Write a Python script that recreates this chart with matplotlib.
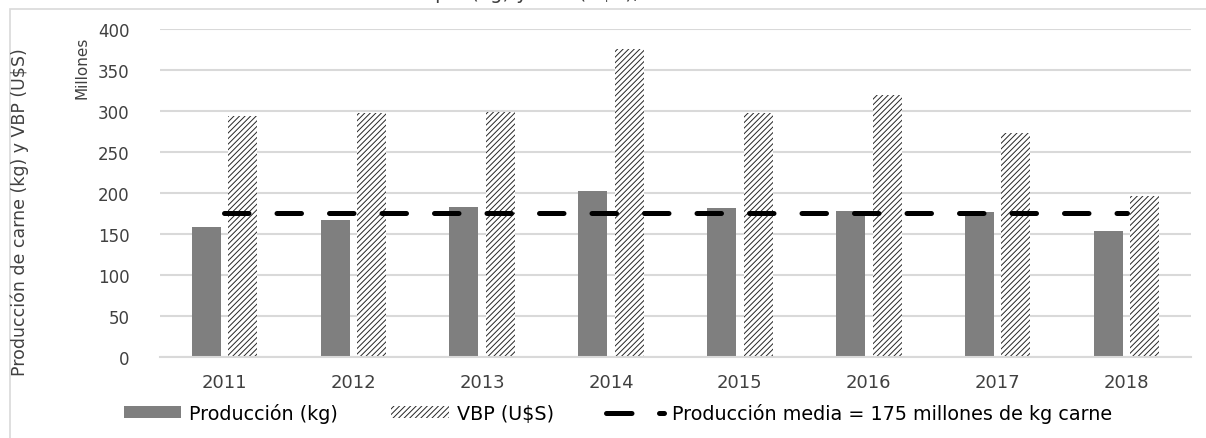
import matplotlib
matplotlib.use("Agg")
import matplotlib.pyplot as plt
import numpy as np
from matplotlib.patches import Patch, Rectangle
from matplotlib.lines import Line2D

anios = ['2011', '2012', '2013', '2014', '2015', '2016', '2017', '2018']
produccion = [158, 167, 183, 202, 181, 178, 177, 153]
vbp = [294, 297, 299, 375, 298, 320, 273, 196]
media = 175

W, H = 1206, 439
fig = plt.figure(figsize=(W / 100, H / 100), dpi=100)
plt.rcParams['font.family'] = ['DejaVu Sans']
plt.rcParams['hatch.linewidth'] = 0.7

# borde del area del grafico
fig.patches.append(Rectangle((10 / W, -0.1), 1.2, 1 - 10 / H + 0.1, transform=fig.transFigure,
                             fill=False, edgecolor='#d9d9d9', linewidth=1.2))

# titulo cortado arriba (solo se ven los trazos bajo la linea base)
titulo = 'Producción de carne en pie (kg) y VBP (U$S), 2011-2018'
prefijo = 'Producción de carne en '
r = fig.canvas.get_renderer()
tmp = fig.text(0, 0, prefijo, fontsize=14)
ancho_pref = tmp.get_window_extent(r).width
tmp.remove()
fig.text((435 - ancho_pref) / W, 1 + 1 / H, titulo, ha='left', va='baseline',
         fontsize=14, color='#404040')

ax = fig.add_axes([160 / W, (H - 357.7) / H, 1031 / W, 327.7 / H])
x = np.arange(len(anios))
ancho = 0.225
desp = 0.142

ax.bar(x - desp, produccion, ancho, color='#7f7f7f', zorder=2)
ax.bar(x + desp, vbp, ancho, color='white', edgecolor='#262626', hatch='//////',
       linewidth=0, zorder=2)
ax.plot(x, [media] * len(x), color='black', linewidth=3.6, dashes=(4.9, 5.6),
        dash_capstyle='round', zorder=3)

ax.set_ylim(0, 400)
ax.set_xlim(-0.5, len(anios) - 0.5)
ax.set_yticks(range(0, 401, 50))
ax.set_xticks(x)
ax.set_xticklabels(anios)
ax.yaxis.grid(True, color='#d9d9d9', linewidth=1.5, zorder=0)
ax.set_axisbelow(True)
for s in ['top', 'right', 'left']:
    ax.spines[s].set_visible(False)
ax.spines['bottom'].set_color('#d9d9d9')
ax.spines['bottom'].set_linewidth(1.5)
ax.tick_params(axis='both', length=0, colors='#404040')
ax.tick_params(axis='y', labelsize=12, pad=22)
ax.tick_params(axis='x', labelsize=13, pad=12)

fig.text(20 / W, 1 - 212 / H, 'Producción de carne (kg) y VBP (U$S)', rotation=90,
         ha='center', va='center', fontsize=12.5, color='#404040')
fig.text(82 / W, 1 - 68 / H, 'Millones', rotation=90, ha='center', va='center',
         fontsize=11, color='#404040')

handles = [Patch(facecolor='#7f7f7f'),
           Patch(facecolor='white', edgecolor='#262626', hatch='//////', linewidth=0),
           Line2D([0], [0], color='black', linewidth=3.6, dashes=(5.1, 5.5),
                  dash_capstyle='round')]
labels = ['Producción (kg)', 'VBP (U$S)', 'Producción media = 175 millones de kg carne']
fig.legend(handles, labels, loc='center', bbox_to_anchor=(618 / W, 1 - 414 / H), ncol=3,
           frameon=False, fontsize=13.8, handlelength=3.0, handleheight=0.55,
           handletextpad=0.42, columnspacing=2.75, labelcolor='black',
           borderpad=0.2)

fig.savefig('out.png', dpi=100)
